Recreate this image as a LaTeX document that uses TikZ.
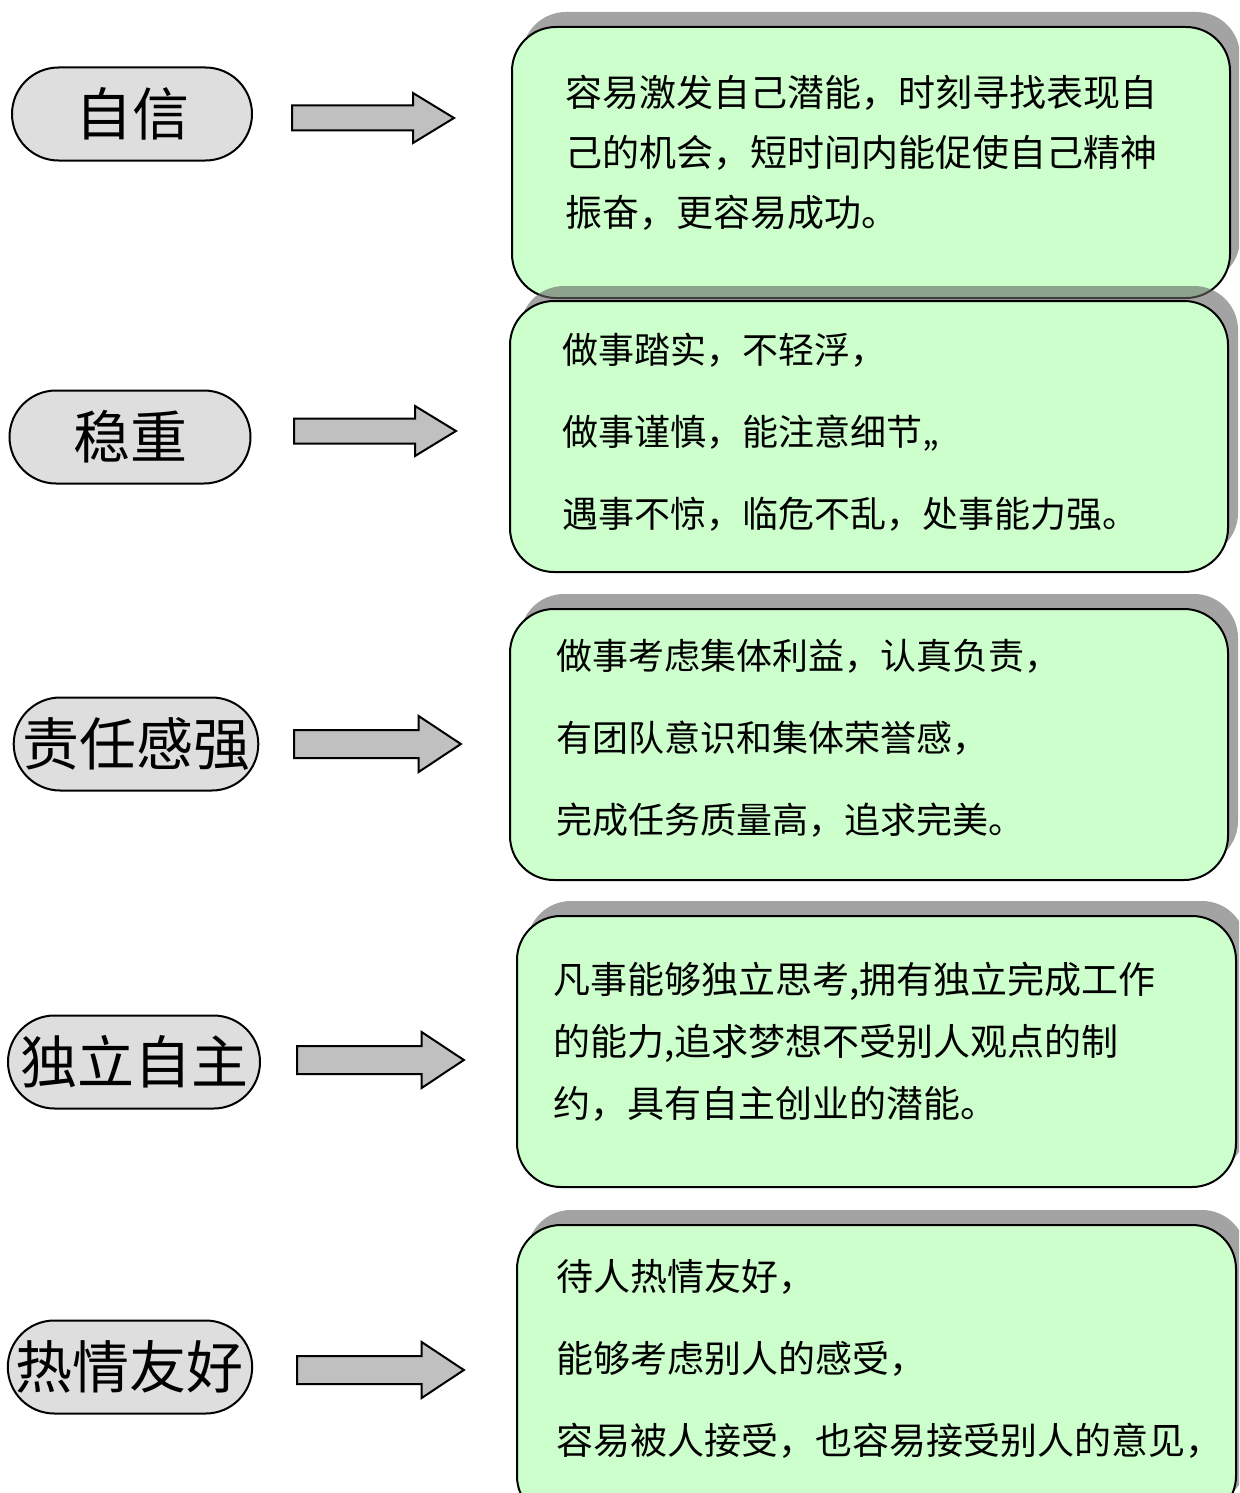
\documentclass[tikz,border=0pt]{standalone}
\usepackage{fontspec}
\setmainfont{Noto Sans CJK SC}
\usetikzlibrary{shapes.misc, shadows}

\definecolor{boxgreen}{RGB}{204,255,204}
\definecolor{pillgray}{RGB}{222,222,222}
\definecolor{arrowgray}{RGB}{192,192,192}

\tikzset{
  trait/.style={rounded rectangle, draw, line width=1pt, fill=pillgray,
    minimum height=46.5pt, inner sep=0pt, font=\fontsize{28.5pt}{32pt}\selectfont},
  infobox/.style={rectangle, rounded corners=22pt, draw, line width=1pt, fill=boxgreen,
    minimum width=359pt, minimum height=135.5pt,
    drop shadow={shadow xshift=5pt, shadow yshift=7.5pt, fill=black!60, opacity=.6}},
  infotext/.style={anchor=west, align=left, inner sep=0pt},
  blockarrow/.pic={
    \draw[line width=1pt, fill=arrowgray]
      (0,-12.5) -- (121,-12.5) -- (121,-25) -- (162,0) -- (121,25) -- (121,12.5) -- (0,12.5) -- cycle;
  }
}

\begin{document}
\begin{tikzpicture}[x=0.5pt, y=-0.5pt]
  \clip (0,0) rectangle (1239,1493);

  % left column
  \node[trait, minimum width=120pt] (p1) at (132,114)  {自信};
  \node[trait, minimum width=120.5pt] (p2) at (130,437)  {稳重};
  \node[trait, minimum width=121pt] (p3) at (136,744)  {责任感强};
  \node[trait, minimum width=126pt] (p4) at (134,1062) {独立自主};
  \node[trait, minimum width=120.5pt] (p5) at (130,1367) {热情友好};

  % arrows
  \pic at (292,118) {blockarrow};
  \pic at (294,431) {blockarrow};
  \pic[xscale=1.03, yscale=1.12] at (294,744) {blockarrow};
  \pic[xscale=1.03, yscale=1.12] at (297,1060) {blockarrow};
  \pic[xscale=1.03, yscale=1.12] at (297,1370) {blockarrow};

  % right column
  \node[infobox] (b1) at (871,162.5) {};
  \node[infotext, font=\fontsize{18.5pt}{30pt}\selectfont] (t1) at (565,153)
    {容易激发自己潜能，时刻寻找表现自\\己的机会，短时间内能促使自己精神\\振奋，更容易成功。};

  \node[infobox] (b2) at (869,436.5) {};
  \node[infotext, font=\fontsize{18pt}{41pt}\selectfont] (t2) at (562,432)
    {做事踏实，不轻浮，\\做事谨慎，能注意细节,,\\遇事不惊，临危不乱，处事能力强。};

  \node[infobox] (b3) at (869,744.5) {};
  \node[infotext, font=\fontsize{18pt}{41pt}\selectfont] (t3) at (556,738)
    {做事考虑集体利益，认真负责，\\有团队意识和集体荣誉感，\\完成任务质量高，追求完美。};

  \node[infobox, minimum width=359.5pt] (b4) at (876.5,1051.5) {};
  \node[infotext, font=\fontsize{18.5pt}{31pt}\selectfont] (t4) at (553,1042)
    {凡事能够独立思考,拥有独立完成工作\\的能力,追求梦想不受别人观点的制\\约，具有自主创业的潜能。};

  \node[infobox, minimum width=359.5pt, minimum height=147.5pt] (b5) at (876.5,1372.5) {};
  \node[infotext, font=\fontsize{18.5pt}{41pt}\selectfont] (t5) at (556,1359)
    {待人热情友好，\\能够考虑别人的感受，\\容易被人接受，也容易接受别人的意见，};
\end{tikzpicture}
\end{document}
